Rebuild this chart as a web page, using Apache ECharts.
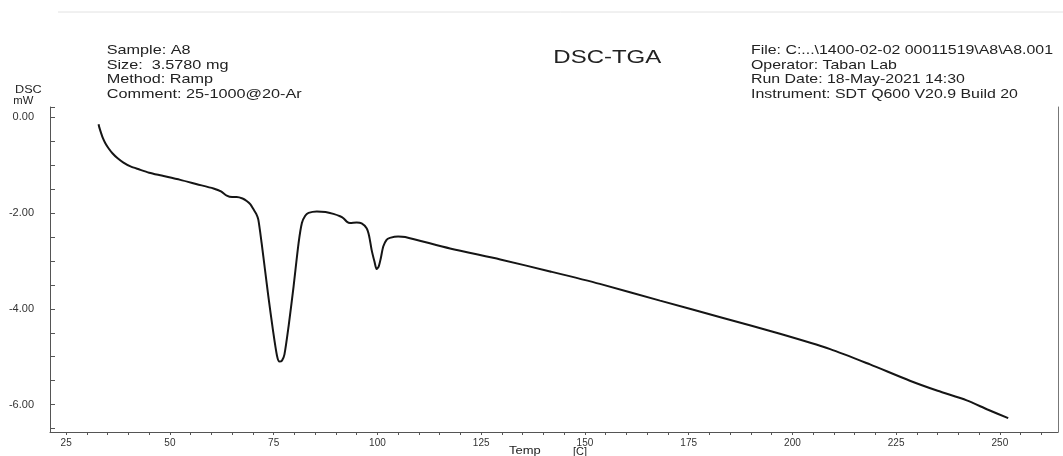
<!DOCTYPE html>
<html>
<head>
<meta charset="utf-8">
<script src="https://cdn.jsdelivr.net/npm/echarts@6/dist/echarts.min.js"></script>
<style>
html,body{margin:0;padding:0;background:#fff;}
#chart{width:1063px;height:456px;}
</style>
</head>
<body>
<div id="chart"></div>
<script>
// ---- data ----
const temps = [32.8, 33.0, 33.4, 33.8, 34.4, 35.2, 36.2, 37.4, 38.8, 40.5, 42.5, 45.0, 48.0, 52.5, 56.5, 60.5, 62.3, 63.7, 65.0, 66.1,
  67.5, 68.5, 69.4, 70.1, 70.8, 71.3, 72.1, 72.9, 73.7, 74.8, 75.8, 76.4, 77.0, 77.6, 78.6, 79.8, 81.0, 81.8, 82.6, 83.4,
  85.4, 87.5, 89.4, 91.0, 91.8, 92.6, 93.4, 95.0, 96.2, 97.4, 98.0, 98.6, 99.3, 99.8, 100.3, 100.8, 101.4, 102.2, 103.0,
  105.0, 106.7, 117.5, 129.6, 141.6, 153.6, 168.1, 183.3, 197.0, 209.1, 218.7, 228.3, 235.0, 242.0, 247.0, 252.0];
const dsc = [-0.15, -0.22, -0.33, -0.43, -0.54, -0.65, -0.76, -0.86, -0.95, -1.03, -1.09, -1.16, -1.22, -1.31, -1.40, -1.49, -1.55, -1.64, -1.67, -1.67,
  -1.70, -1.75, -1.82, -1.92, -2.02, -2.14, -2.63, -3.18, -3.73, -4.43, -4.98, -5.10, -5.08, -4.95, -4.36, -3.53, -2.63, -2.21, -2.06, -2.00,
  -1.97, -1.98, -2.02, -2.07, -2.11, -2.18, -2.21, -2.20, -2.22, -2.32, -2.48, -2.77, -3.02, -3.17, -3.12, -2.95, -2.70, -2.56, -2.52,
  -2.49, -2.50, -2.74, -2.97, -3.22, -3.48, -3.83, -4.19, -4.52, -4.84, -5.16, -5.50, -5.71, -5.91, -6.10, -6.28];

const xTickLabels = [25, 50, 75, 100, 125, 150, 175, 200, 225, 250];
const xMinorTicks = [25, 30, 35, 40, 45, 50, 55, 60, 65, 70, 75, 80, 85, 90, 95, 100, 105, 110, 115, 120, 125, 130, 135, 140, 145,
  150, 155, 160, 165, 170, 175, 180, 185, 190, 195, 200, 205, 210, 215, 220, 225, 230, 235, 240, 245, 250, 255, 260];
const yTickLabels = [0, -2, -4, -6];
const yMinorTicks = [0.21, 0, -0.5, -1, -1.5, -2, -2.5, -3, -3.5, -4, -4.5, -5, -5.5, -6, -6.5];

const headerLeft = ['Sample: A8', 'Size:  3.5780 mg', 'Method: Ramp', 'Comment: 25-1000@20-Ar'];
const headerRight = ['File: C:...\\1400-02-02 00011519\\A8\\A8.001', 'Operator: Taban Lab', 'Run Date: 18-May-2021 14:30', 'Instrument: SDT Q600 V20.9 Build 20'];
const titleText = 'DSC-TGA';
const yName = ['DSC', 'mW'];
const xName = ['Temp', '[C]'];

// ---- build ----
const FONT = '"Liberation Sans", Arial, sans-serif';
const mctx = document.createElement('canvas').getContext('2d');
function fitScale(text, size, targetW) {
  mctx.font = size + 'px ' + FONT;
  return targetW / mctx.measureText(text).width;
}
function txt(text, x, y, size, scaleX, color) {
  return {
    type: 'text', x: x, y: y, scaleX: scaleX, scaleY: 1, silent: true,
    style: { text: text, x: 0, y: 0, font: size + 'px ' + FONT, fill: color || '#222', textAlign: 'left', textVerticalAlign: 'middle' }
  };
}
const graphics = [];
graphics.push({ type: 'line', silent: true, shape: { x1: 58, y1: 12, x2: 1063, y2: 12 }, style: { stroke: '#e2e2e2', lineWidth: 1 } });
const rowYs = [50.7, 65, 79.3, 94];
const sL = fitScale(headerLeft[3], 13, 195);
headerLeft.forEach((t, i) => graphics.push(txt(t, 106.7, rowYs[i], 13, sL)));
graphics.push(txt(titleText, 553.3, 57.3, 19, fitScale(titleText, 19, 108)));
const sR = fitScale(headerRight[0], 13, 302);
headerRight.forEach((t, i) => graphics.push(txt(t, 751, rowYs[i], 13, sR)));
graphics.push(txt(yName[0], 15, 90, 10, fitScale(yName[0], 10, 26.7)));
graphics.push(txt(yName[1], 13.3, 101.7, 10, fitScale(yName[1], 10, 20)));
graphics.push(txt(xName[0], 509, 451.7, 10, fitScale(xName[0], 10, 31.7)));
graphics.push(txt(xName[1], 573, 452.5, 10, fitScale(xName[1], 10, 14)));

const chart = echarts.init(document.getElementById('chart'), null, { renderer: 'canvas' });
chart.setOption({
  backgroundColor: '#ffffff',
  animation: false,
  grid: { left: 50, right: 5, top: 107, bottom: 24, containLabel: false },
  xAxis: {
    type: 'value', min: 21.1, max: 264,
    axisLine: { show: true, onZero: false, lineStyle: { color: '#555', width: 1 } },
    axisTick: { show: true, inside: false, length: 3, customValues: xMinorTicks, lineStyle: { color: '#555' } },
    axisLabel: { customValues: xTickLabels, fontSize: 10, color: '#333', margin: 6, fontFamily: FONT, formatter: v => String(v) },
    splitLine: { show: false }
  },
  yAxis: [{
    type: 'value', min: -6.57, max: 0.21,
    axisLine: { show: true, onZero: false, lineStyle: { color: '#555', width: 1 } },
    axisTick: { show: true, inside: true, length: 5, customValues: yMinorTicks, lineStyle: { color: '#555' } },
    axisLabel: { customValues: yTickLabels, fontSize: 11, color: '#333', margin: 16, fontFamily: FONT, formatter: v => v.toFixed(2) },
    splitLine: { show: false }
  }, {
    type: 'value', min: -6.57, max: 0.21, position: 'right',
    axisLine: { show: true, onZero: false, lineStyle: { color: '#777', width: 1 } },
    axisTick: { show: false }, axisLabel: { show: false }, splitLine: { show: false }
  }],
  series: [{
    type: 'line', yAxisIndex: 0,
    data: temps.map((t, i) => [t, dsc[i]]),
    showSymbol: false, smooth: 0.25,
    lineStyle: { color: '#151515', width: 2 }
  }],
  graphic: graphics
});
</script>
</body>
</html>
